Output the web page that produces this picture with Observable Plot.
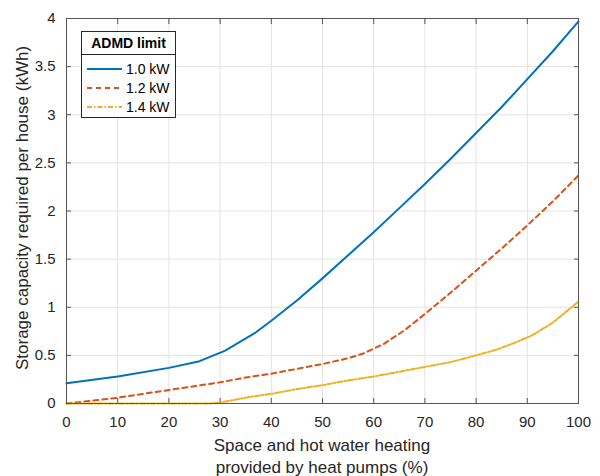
<!DOCTYPE html>
<html><head><meta charset="utf-8">
<script src="https://cdn.jsdelivr.net/npm/d3@7"></script>
<script src="https://cdn.jsdelivr.net/npm/@observablehq/plot@0.6"></script>
<style>
html,body{margin:0;padding:0;background:#fff;}
#chart{position:relative;width:600px;height:476px;}
</style></head>
<body><div id="chart"></div>
<script>
const xTicks = [0,10,20,30,40,50,60,70,80,90,100];
const yTicks = [0,0.5,1,1.5,2,2.5,3,3.5,4];
const yTickLabels = ["0","0.5","1","1.5","2","2.5","3","3.5","4"];

const seriesNames = ["1.0 kW","1.2 kW","1.4 kW"];
const x1 = [0,10,20,26,31,37,40,45,50,55,60,65,70,75,80,85,90,95,100];
const v1 = [0.21,0.28,0.37,0.44,0.55,0.74,0.86,1.07,1.30,1.54,1.78,2.03,2.28,2.54,2.81,3.08,3.37,3.66,3.97];
const x2 = [0,5,10,15,20,25,30,35,40,45,50,55,58,62,66,70,75,80,85,90,95,100];
const v2 = [0.0,0.03,0.06,0.10,0.14,0.18,0.22,0.27,0.31,0.36,0.41,0.47,0.52,0.62,0.76,0.93,1.15,1.38,1.61,1.85,2.10,2.37];
const x3 = [0,10,20,28,30,32,36,40,45,50,55,60,65,70,75,80,84,88,91,95,100];
const v3 = [0.0,0.0,0.0,0.0,0.01,0.03,0.07,0.10,0.15,0.19,0.24,0.28,0.33,0.38,0.43,0.50,0.56,0.64,0.71,0.84,1.06];

const colors = ["#0072BD","#D95319","#EDB120"];
const dashes = [null,"5,4","5,2,1.5,2"];

const data = [];
[[x1,v1],[x2,v2],[x3,v3]].forEach(([xs,vs],i)=>{
  xs.forEach((x,j)=>data.push({series:seriesNames[i], x, y:vs[j]}));
});

const font = "'Liberation Sans', Arial, Helvetica, sans-serif";
const axisColor = "#555";

const plot = Plot.plot({
  width: 600, height: 476,
  marginLeft: 66, marginRight: 22, marginTop: 18, marginBottom: 73,
  style: {fontFamily: font, fontSize: "15px", color: "#262626", background: "#fff"},
  x: {domain:[0,100]},
  y: {domain:[0,4]},
  marks: [
    Plot.gridX(xTicks, {stroke:"#e3e3e3", strokeOpacity:1}),
    Plot.gridY(yTicks, {stroke:"#e3e3e3", strokeOpacity:1}),
    Plot.axisX(xTicks, {anchor:"bottom", tickSize:0, tickPadding:13, fontSize:15, fill:"#262626", label:null}),
    Plot.axisX(xTicks, {anchor:"bottom", tickSize:5, text:null, dy:-5, stroke:axisColor, label:null}),
    Plot.axisX(xTicks, {anchor:"top", tickSize:5, text:null, dy:5, stroke:axisColor, label:null}),
    Plot.axisY(yTicks, {anchor:"left", tickSize:0, tickPadding:11, fontSize:15, fill:"#262626", label:null, tickFormat:(d,i)=>yTickLabels[i]}),
    Plot.axisY(yTicks, {anchor:"left", tickSize:5, text:null, dx:5, stroke:axisColor, label:null}),
    Plot.axisY(yTicks, {anchor:"right", tickSize:5, text:null, dx:-5, stroke:axisColor, label:null}),
    ...seriesNames.map((s,i)=>Plot.line(data.filter(d=>d.series===s), {
      x:"x", y:"y", stroke:colors[i], strokeWidth:2, strokeDasharray:dashes[i], curve:"linear"
    })),
    Plot.frame({stroke:axisColor, strokeWidth:1})
  ]
});
document.getElementById("chart").appendChild(plot);

const svg = d3.select(plot);
// axis titles
svg.append("text").attr("x", 322).attr("y", 451).attr("text-anchor","middle")
  .attr("font-family", font).attr("font-size", 17).attr("fill","#262626").text("Space and hot water heating");
svg.append("text").attr("x", 322).attr("y", 473).attr("text-anchor","middle")
  .attr("font-family", font).attr("font-size", 17).attr("fill","#262626").text("provided by heat pumps (%)");
svg.append("text").attr("transform","translate(28,208) rotate(-90)").attr("text-anchor","middle")
  .attr("font-family", font).attr("font-size", 17).attr("fill","#262626").text("Storage capacity required per house (kWh)");

// legend
const lg = svg.append("g");
lg.append("rect").attr("x",81.5).attr("y",31.5).attr("width",94).attr("height",86)
  .attr("fill","#fff").attr("stroke","#262626").attr("stroke-width",1);
lg.append("line").attr("x1",81.5).attr("x2",175.5).attr("y1",54.5).attr("y2",54.5).attr("stroke","#262626");
lg.append("text").attr("x",128.5).attr("y",48).attr("text-anchor","middle")
  .attr("font-family",font).attr("font-size",14).attr("font-weight","bold").attr("fill","#000").text("ADMD limit");
seriesNames.forEach((s,i)=>{
  const y = 69 + i*19;
  lg.append("line").attr("x1",87).attr("x2",122).attr("y1",y).attr("y2",y)
    .attr("stroke",colors[i]).attr("stroke-width",1.8).attr("stroke-dasharray",dashes[i]);
  lg.append("text").attr("x",126).attr("y",y+5).attr("text-anchor","start").attr("font-family",font).attr("font-size",14)
    .attr("fill","#000").text(s);
});
</script></body></html>
